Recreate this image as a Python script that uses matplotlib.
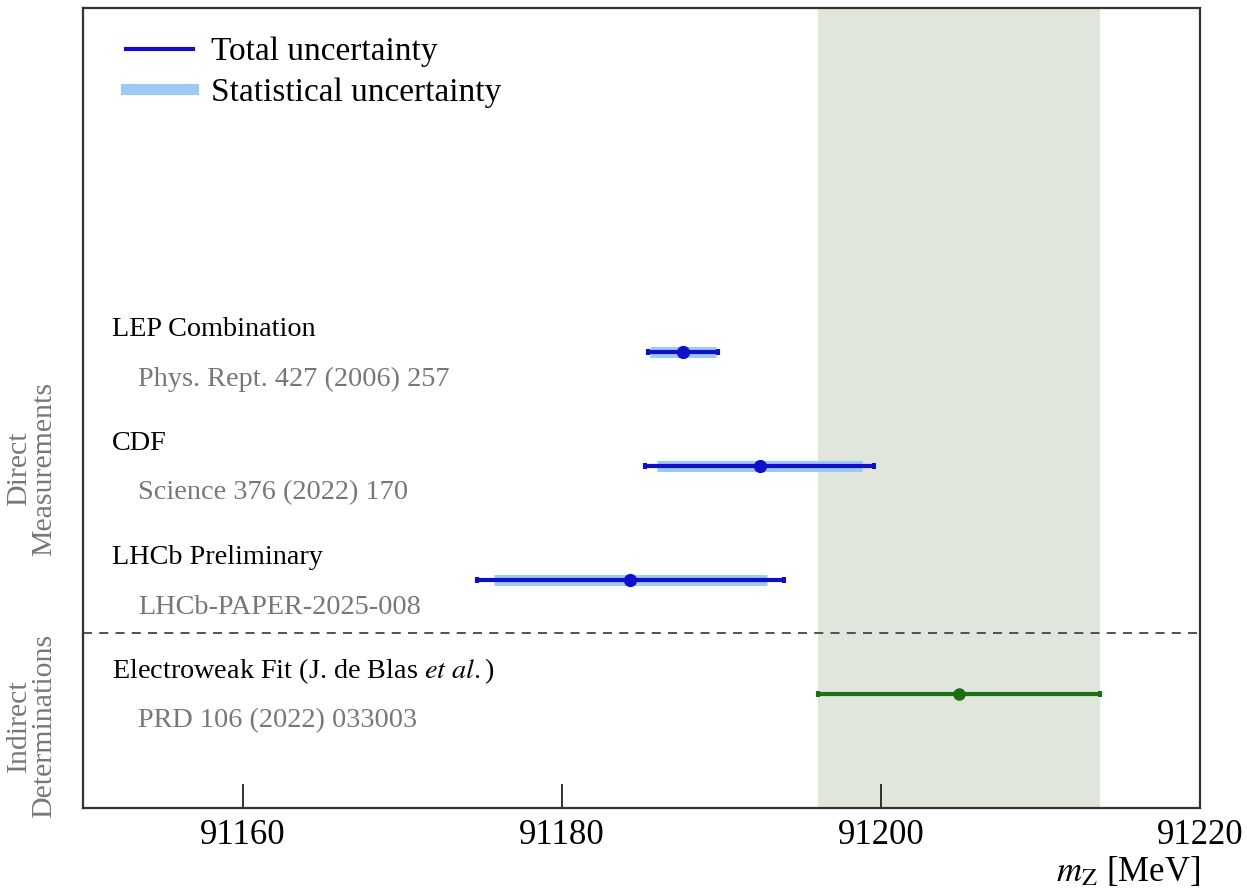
import matplotlib
matplotlib.use("Agg")
import matplotlib.pyplot as plt
from matplotlib.lines import Line2D
import matplotlib.transforms as mtransforms

# ---- data ----
names = ["LEP Combination", "CDF", "LHCb Preliminary",
         r"Electroweak Fit (J. de Blas $\mathit{et\ al.}$)"]
refs = ["Phys. Rept. 427 (2006) 257", "Science 376 (2022) 170",
        "LHCb-PAPER-2025-008", "PRD 106 (2022) 033003"]
central = [91187.6, 91192.4, 91184.3, 91204.9]
total_err = [2.2, 7.2, 9.6, 8.85]
stat_err = [2.05, 6.4, 8.55]
ypos = [4.56, 3.42, 2.28, 1.14]
xticks = [91160, 91180, 91200, 91220]

plt.rcParams['font.family'] = ['Liberation Serif', 'DejaVu Serif']
plt.rcParams['mathtext.fontset'] = 'stix'

fig = plt.figure(figsize=(12.47, 8.91), dpi=100)
ax = fig.add_axes([83/1247, 83/891, 1117/1247, 800/891])
ax.set_xlim(91150, 91220)
ax.set_ylim(0, 8)

blue = '#1010cc'
lightblue = '#9ccaf2'
green = '#1e6e14'
gray_txt = '#777777'

# EW fit band
ax.axvspan(central[3] - total_err[3], central[3] + total_err[3],
           color='#e0e6dc', zorder=0, lw=0)

# direct measurements
for i in range(3):
    ax.plot([central[i] - stat_err[i], central[i] + stat_err[i]], [ypos[i]] * 2,
            color=lightblue, lw=8, solid_capstyle='butt', zorder=2)
    ax.errorbar(central[i], ypos[i], xerr=total_err[i], fmt='o', color=blue,
                ms=8.5, elinewidth=3, capsize=2.5, capthick=3, zorder=3)

# indirect
ax.errorbar(central[3], ypos[3], xerr=total_err[3], fmt='o', color=green,
            ms=8, elinewidth=3, capsize=2.5, capthick=3, zorder=3)

# labels
trans = mtransforms.blended_transform_factory(ax.transAxes, ax.transData)
for i in range(4):
    ax.text(29/1117, ypos[i] + 0.23, names[i], transform=trans, fontsize=20.3,
            va='center', ha='left', color='black')
    ax.text(55/1117, ypos[i] - 0.27, refs[i], transform=trans, fontsize=20.3,
            va='center', ha='left', color=gray_txt)

# separator
ax.axhline(1.75, color='#444444', lw=1.3, ls=(0, (5, 4)))

# group labels
fig.text(0.025, (891 - 469) / 891, "Direct\nMeasurements", rotation=90,
         ha='center', va='center', fontsize=21.5, color=gray_txt, linespacing=0.95)
fig.text(0.025, (891 - 726) / 891, "Indirect\nDeterminations", rotation=90,
         ha='center', va='center', fontsize=21.5, color=gray_txt, linespacing=0.95)

# axes styling
ax.set_yticks([])
ax.set_xticks(xticks)
ax.tick_params(axis='x', direction='in', length=17, width=1.3, labelsize=25,
               pad=8, colors='#222222', labelcolor='black')
for s in ax.spines.values():
    s.set_color('#333333')
    s.set_linewidth(1.6)
ax.set_xlabel(r"$m_{\mathrm{Z}}$ [MeV]", loc='right', fontsize=25, labelpad=2)

handles = [Line2D([], [], color=blue, lw=3),
           Line2D([], [], color=lightblue, lw=8)]
ax.legend(handles, ["Total uncertainty", "Statistical uncertainty"],
          loc='upper left', bbox_to_anchor=(0.018, 0.993), frameon=False,
          fontsize=24, handlelength=2.0, handletextpad=0.55, labelspacing=0.3,
          borderaxespad=0.3)

fig.savefig("out.png", dpi=100)
